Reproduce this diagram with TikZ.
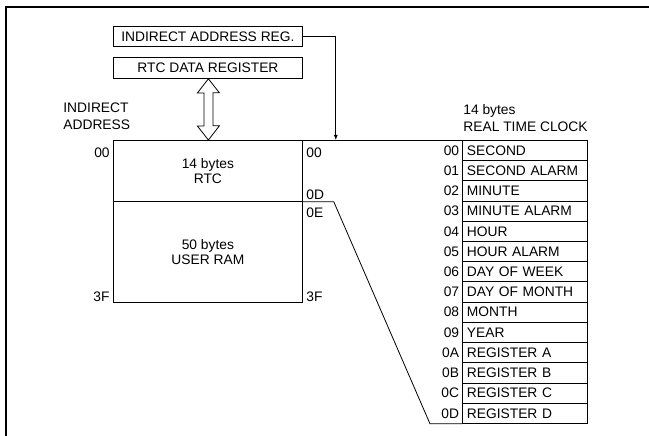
\documentclass[tikz,border=0pt]{standalone}
\usepackage{fontspec}
\setmainfont{Liberation Sans}
\usetikzlibrary{arrows.meta,calc}
\begin{document}
\begin{tikzpicture}[x=1pt,y=-1pt, line width=0.8pt,
  font=\fontsize{13.8}{15.5}\selectfont,
  box/.style={draw, inner sep=0pt, anchor=north west},
  lbl/.style={inner sep=0pt},
  rowbox/.style={draw, anchor=north west, minimum height=20.214pt, text width=116pt, align=left, inner xsep=4.5pt, inner ysep=0pt}]
\useasboundingbox (0,0) rectangle (649,436);
\draw[line width=1.5pt] (6,436) -- (6,7) -- (649,7);

\node[box, minimum width=189pt, minimum height=20pt] (iar) at (113,26) {INDIRECT ADDRESS REG.};
\node[box, minimum width=189pt, minimum height=21pt] (rdr) at (113,57) {RTC DATA REGISTER};

\node[box, minimum width=189pt, minimum height=61pt, align=center] (memtop) at (113,140) {14 bytes\\RTC};
\node[box, minimum width=189pt, minimum height=101pt, align=center] (memram) at (113,201) {50 bytes\\USER RAM};

% hollow double arrow
\draw ($(rdr.south)+(0.5,0)$) coordinate (dt)
  -- ++(11,14) -- ++(-6.5,0) -- ++(0,33) -- ++(6.5,0)
  -- ($(memtop.north)+(0.5,0)$) -- ++(-11,-14) -- ++(6.5,0) -- ++(0,-33) -- ++(-6.5,0) -- cycle;

% labels
\node[lbl, align=left, anchor=north west, font=\fontsize{13.8}{17}\selectfont] (ia) at (63,102) {INDIRECT\\ADDRESS};
\node[lbl, anchor=north east] (l00) at (110,147) {00};
\node[lbl, anchor=south east] (l3f) at (110,302) {3F};
\node[lbl, anchor=north west] (r00) at (306,147) {00};
\node[lbl, anchor=south west] (r0d) at (306,200) {0D};
\node[lbl, anchor=north west] (r0e) at (306,207) {0E};
\node[lbl, anchor=south west] (r3f) at (306,302) {3F};
\node[lbl, align=left, anchor=north west, font=\fontsize{13.8}{17}\selectfont] (rtcl) at (463,104) {14 bytes\\REAL TIME CLOCK};

% RTC table
\foreach \t/\h [count=\i from 0] in {SECOND/00, SECOND ALARM/01, MINUTE/02, MINUTE ALARM/03, HOUR/04, HOUR ALARM/05, DAY OF WEEK/06, DAY OF MONTH/07, MONTH/08, YEAR/09, REGISTER A/0A, REGISTER B/0B, REGISTER C/0C, REGISTER D/0D}{
  \node[rowbox] (r\i) at (462,{140+\i*20.214}) {\t};
  \node[lbl, anchor=east] (h\i) at ($(r\i.west)+(-2.5,0)$) {\h};
}

% connectors
\draw (memtop.north east) -- (r0.north west);
\coordinate (tgt) at ($(memtop.north east)+(33,0)$);
\draw[-{Latex[length=5pt,width=4pt]}] (iar.east) -| (tgt);
\draw (memtop.south east) -- ++(31,0) -- ($(r13.south west)+(-32,0)$) -- (r13.south west);
\end{tikzpicture}
\end{document}
